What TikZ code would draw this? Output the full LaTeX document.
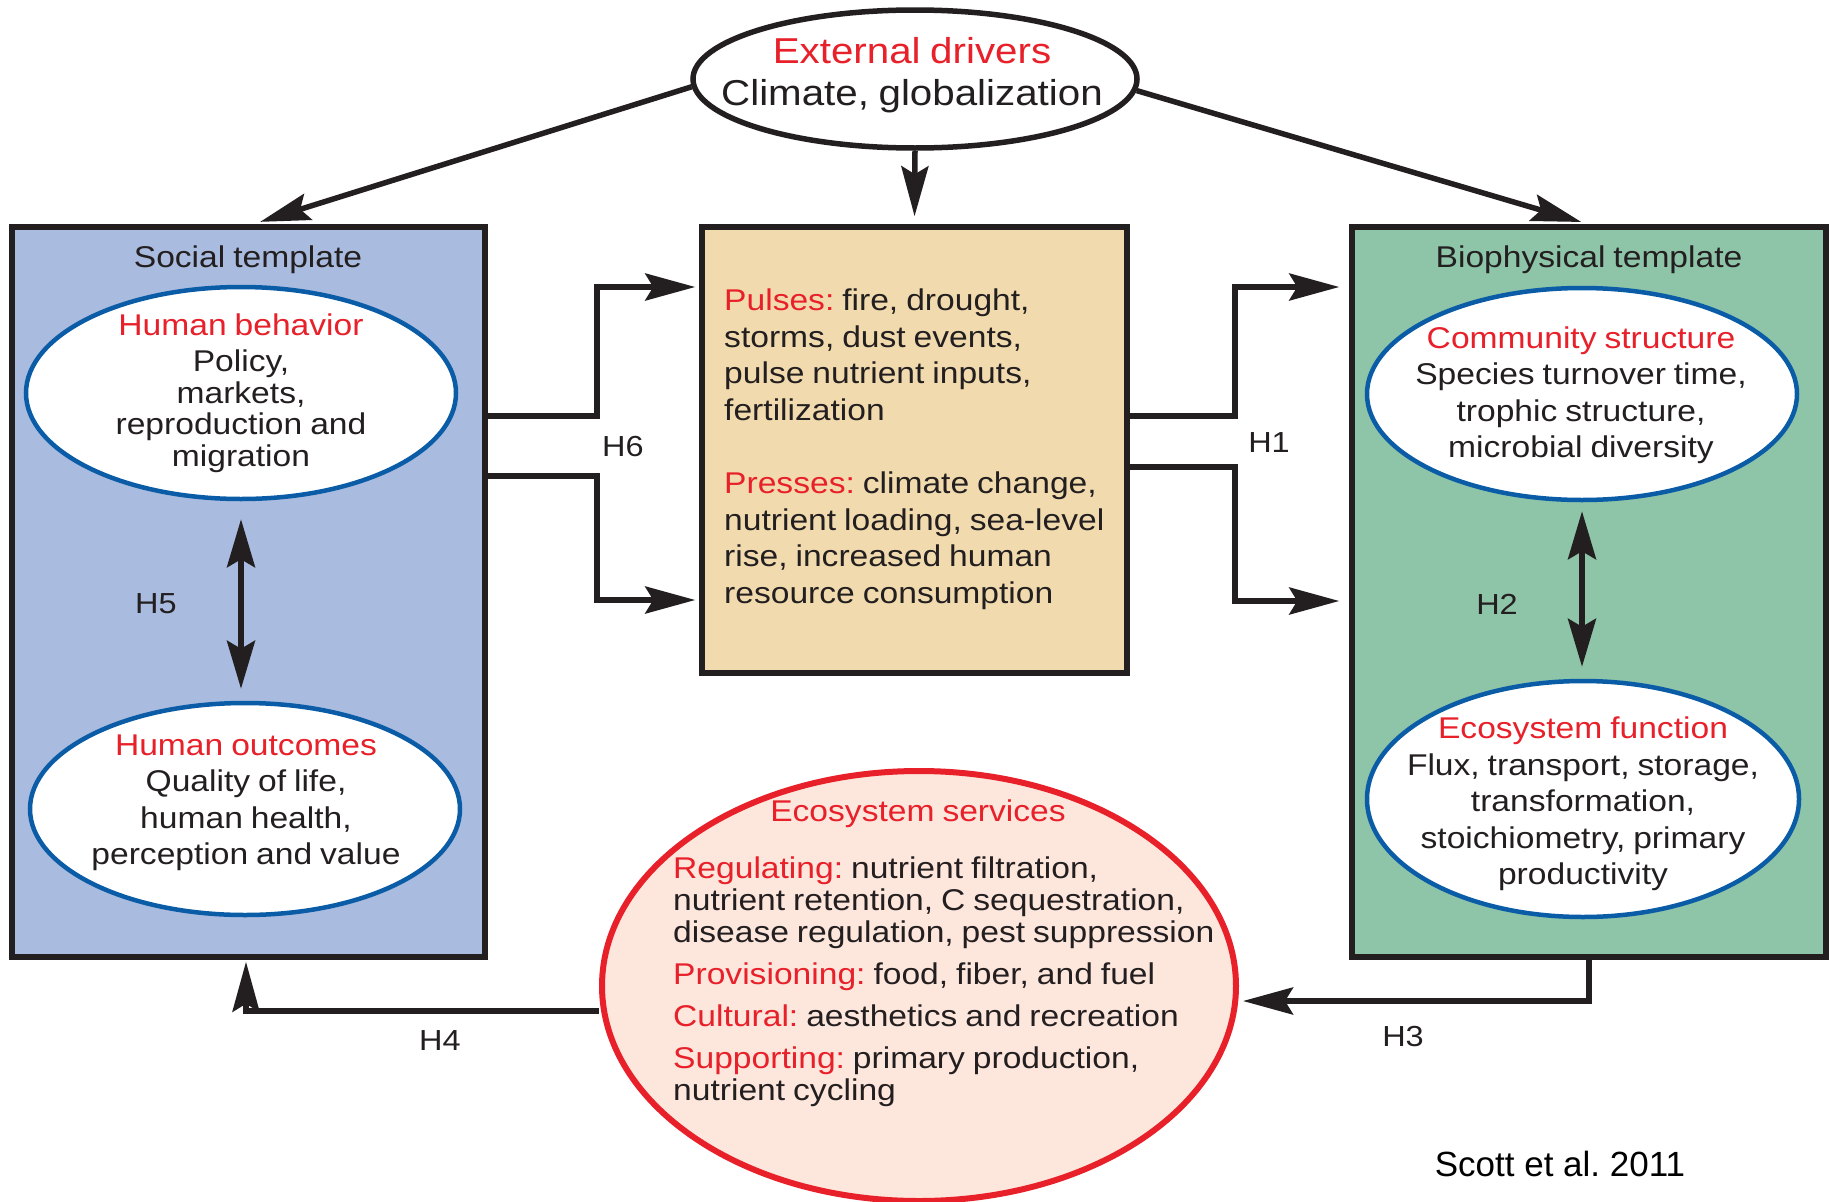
\documentclass[tikz,border=0pt]{standalone}
\usepackage{fontspec}
\setmainfont[FakeStretch=1.12,WordSpace=0.85]{Liberation Sans}
\newfontfamily\plainfont{Liberation Sans}
\usetikzlibrary{shapes.geometric,arrows.meta,calc}
\frenchspacing
\definecolor{linec}{HTML}{231F20}
\definecolor{redt}{HTML}{E8202A}
\definecolor{blueedge}{HTML}{0B5CA6}
\definecolor{socialfill}{HTML}{A9BBDF}
\definecolor{biofill}{HTML}{8EC4A8}
\definecolor{pressfill}{HTML}{F1DBAE}
\definecolor{esfill}{HTML}{FDE6DC}
\tikzset{
  box/.style={draw=linec, line width=5.5pt, rectangle, inner sep=0pt},
  inell/.style={draw=blueedge, fill=white, line width=4.5pt, ellipse, inner sep=0pt},
  txt/.style={inner sep=0pt, text=linec, font=\fontsize{30}{36.5}\selectfont},
  arr/.style={draw=linec, line width=5.5pt, -{Stealth[length=50pt,width=27pt,inset=8pt]}},
  darr/.style={draw=linec, line width=5.5pt, {Stealth[length=48pt,width=28pt,inset=8pt]}-{Stealth[length=48pt,width=28pt,inset=8pt]}},
  hlab/.style={inner sep=0pt, text=linec, font=\fontsize{29}{34}\selectfont}
}
\newcommand{\rd}[1]{\textcolor{redt}{#1}}
\begin{document}
\frenchspacing
\begin{tikzpicture}[x=1pt,y=-1pt]
\useasboundingbox (0,0) rectangle (1829,1202);
% boxes
\node[box, fill=socialfill, minimum width=473pt, minimum height=730pt] (social) at (248.5,592) {};
\node[box, fill=pressfill, minimum width=425pt, minimum height=446pt] (press) at (914.5,450) {};
\node[box, fill=biofill, minimum width=474pt, minimum height=730pt] (bio) at (1589,592) {};
% ellipses
\node[ellipse, draw=linec, fill=white, line width=5.5pt, inner sep=0pt, minimum width=444pt, minimum height=138pt] (ext) at (915,79) {};
\node[inell, minimum width=430pt, minimum height=212pt] (hb) at (241,393) {};
\node[inell, minimum width=430pt, minimum height=212pt] (ho) at (245,809) {};
\node[inell, minimum width=430pt, minimum height=212pt] (cs) at (1582,394) {};
\node[inell, minimum width=432pt, minimum height=236pt] (ef) at (1583,799) {};
\node[ellipse, draw=redt, fill=esfill, line width=6pt, inner sep=0pt, minimum width=634pt, minimum height=430pt] (es) at (919,986) {};
% texts
\node[txt, align=center, font=\fontsize{36}{42}\selectfont] (extt) at (912,75) {\rd{External drivers}\\Climate, globalization};
\node[txt] (socialt) at (248,260) {Social template};
\node[txt] (biot) at (1589,260) {Biophysical template};
\node[txt, align=center, font=\fontsize{30}{31.5}\selectfont] (hbt) at (241,393) {\rd{Human behavior}\\[4.5pt]Policy,\\markets,\\reproduction and\\migration};
\node[txt, align=center] (hot) at (246,803) {\rd{Human outcomes}\\Quality of life,\\human health,\\perception and value};
\node[txt, align=center] (cst) at (1581,395) {\rd{Community structure}\\Species turnover time,\\trophic structure,\\microbial diversity};
\node[txt, align=center] (eft) at (1583,804) {\rd{Ecosystem function}\\Flux, transport, storage,\\transformation,\\stoichiometry, primary\\productivity};
\node[txt, align=left, anchor=west] (presst) at (724,449) {\rd{Pulses:} fire, drought,\\storms, dust events,\\pulse nutrient inputs,\\fertilization\\[37pt]\rd{Presses:} climate change,\\nutrient loading, sea-level\\rise, increased human\\resource consumption};
\node[txt] (est) at (918,814) {\rd{Ecosystem services}};
\node[txt, align=left, anchor=west, font=\fontsize{30}{32}\selectfont] (eslist) at (673,982) {\rd{Regulating:} nutrient filtration,\\nutrient retention, C sequestration,\\disease regulation, pest suppression\\[10pt]\rd{Provisioning:} food, fiber, and fuel\\[10pt]\rd{Cultural:} aesthetics and recreation\\[10pt]\rd{Supporting:} primary production,\\nutrient cycling};
% labels
\node[hlab] (h6) at (623,447) {H6};
\node[hlab] (h1) at (1269,443) {H1};
\node[hlab] (h5) at (156,604) {H5};
\node[hlab] (h2) at (1497,604) {H2};
\node[hlab] (h3) at (1403,1037) {H3};
\node[hlab] (h4) at (440,1041) {H4};
\node[inner sep=0pt, text=black, font=\plainfont\fontsize{35}{40}\selectfont] (cite) at (1560,1164) {Scott et al. 2011};
% coordinates for elbows
\coordinate (h6a) at (597,416);
\coordinate (h6b) at (597,287);
\coordinate (h6c) at (597,476);
\coordinate (h6d) at (597,600);
\coordinate (h1a) at (1235,416);
\coordinate (h1b) at (1235,287);
\coordinate (h1c) at (1235,467);
\coordinate (h1d) at (1235,601);
\coordinate (h3c) at (1589,1001);
\coordinate (h4c) at (246,1011);
% connectors
\draw[arr, shorten >=8pt] (ext.182) -- ([xshift=4pt]social.north);
\draw[arr, shorten >=8pt] (ext.south) -- (press.north);
\draw[arr, shorten >=8pt] (ext.-3.5) -- (bio.north);
\draw[arr, shorten >=4pt] (social.east |- h6a) -- (h6a) -- (h6b) -- (press.west |- h6b);
\draw[arr, shorten >=4pt] (social.east |- h6c) -- (h6c) -- (h6d) -- (press.west |- h6d);
\draw[arr, shorten >=10pt] (press.east |- h1a) -- (h1a) -- (h1b) -- (bio.west |- h1b);
\draw[arr, shorten >=10pt] (press.east |- h1c) -- (h1c) -- (h1d) -- (bio.west |- h1d);
\draw[darr, shorten <=18pt, shorten >=12pt] (hb.south) -- (hb.south |- ho.north);
\draw[darr, shorten <=9pt, shorten >=12pt] (cs.south) -- (cs.south |- ef.north);
\draw[arr, shorten >=4pt] (bio.south) -- (h3c) -- (es.east |- h3c);
\draw[arr, shorten >=2pt] (es.west |- h4c) -- (h4c) -- (social.south -| h4c);
\end{tikzpicture}
\end{document}
